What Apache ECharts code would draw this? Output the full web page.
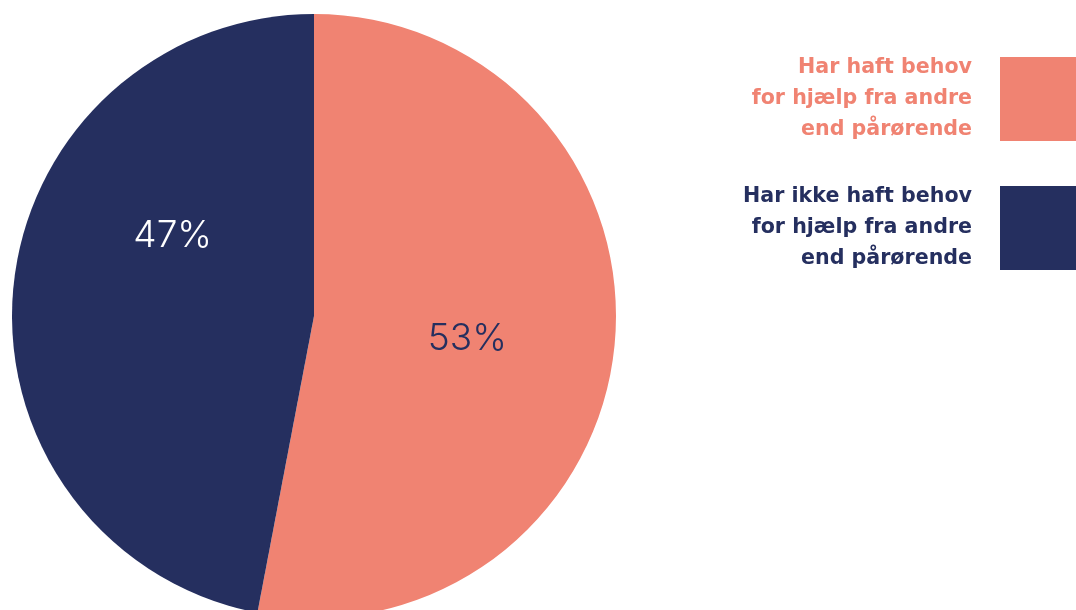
<!DOCTYPE html>
<html>
<head>
<meta charset="utf-8">
<script src="https://cdn.jsdelivr.net/npm/echarts@6/dist/echarts.min.js"></script>
<style>
  html, body { margin: 0; padding: 0; background: #fff; }
  #chart { width: 1076px; height: 610px; }
</style>
</head>
<body>
<div id="chart"></div>
<script>
const categories = [
  "Har haft behov\nfor hjælp fra andre\nend pårørende",
  "Har ikke haft behov\nfor hjælp fra andre\nend pårørende",
];
const values = [53, 47];
const colors = ["#F08372", "#252F5F"];
const labelColors = ["#252F5F", "#FFFFFF"];

// labels are placed by hand in the original, nudge them from the default spot
const labelOffsets = [[0, 8], [12, -66]];

const chart = echarts.init(document.getElementById("chart"));

chart.setOption({
  animation: false,
  legend: {
    orient: "vertical",
    right: 0,
    top: 47.5,
    padding: 0,
    icon: "rect",
    itemWidth: 76,
    itemHeight: 84,
    itemGap: 26,
    align: "right",
    selectedMode: false,
    data: categories.map((name, i) => ({
      name: name,
      textStyle: {
        color: colors[i],
        fontFamily: "DejaVu Sans",
        fontWeight: "bold",
        fontSize: 20.6,
        lineHeight: 31,
        padding: [10, 23, 0, 0],
      },
    })),
  },
  series: [
    {
      type: "pie",
      center: [314, 316],
      radius: 302,
      startAngle: 90,
      clockwise: true,
      label: {
        show: true,
        position: "inside",
        formatter: "{c}%",
        fontFamily: "Inter",
        fontWeight: 300,
        fontSize: 37,
      },
      labelLine: { show: false },
      emphasis: { disabled: true },
      data: categories.map((name, i) => ({
        name: name,
        value: values[i],
        itemStyle: { color: colors[i] },
        label: { color: labelColors[i], offset: labelOffsets[i] },
      })),
    },
  ],
});
</script>
</body>
</html>
